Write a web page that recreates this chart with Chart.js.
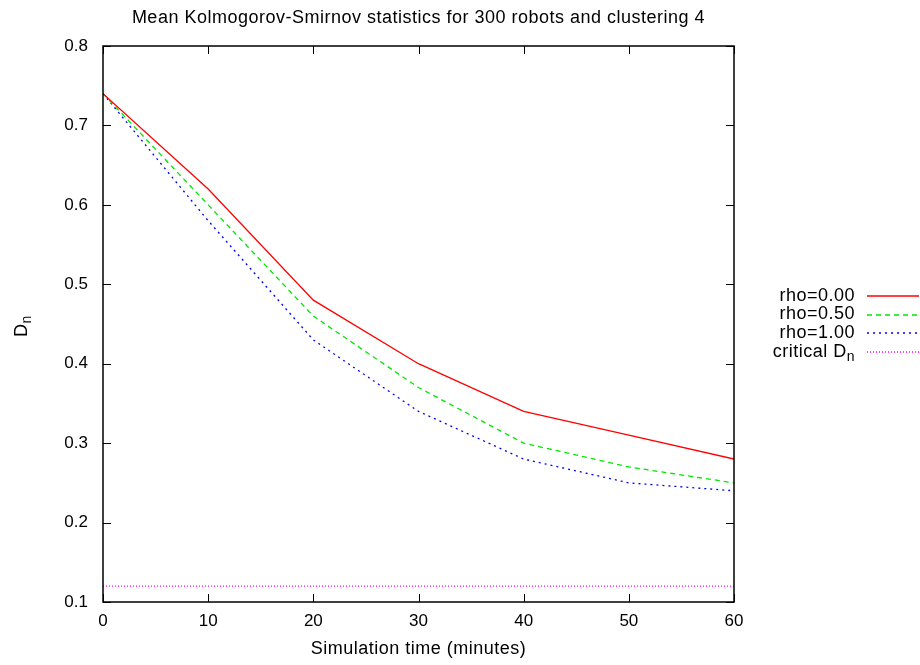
<!DOCTYPE html>
<html>
<head>
<meta charset="utf-8">
<script src="https://cdn.jsdelivr.net/npm/chart.js@4.4.0/dist/chart.umd.min.js"></script>
<style>
  html, body { margin: 0; padding: 0; background: #fff; }
  #wrap { width: 920px; height: 665px; }
</style>
</head>
<body>
<div id="wrap"><canvas id="c" width="920" height="665"></canvas></div>
<script>
// Simulation time in minutes and mean KS statistic per rho value
const minutes = [0, 10, 20, 30, 40, 50, 60];
const rho000 = [0.74, 0.62, 0.48, 0.40, 0.34, 0.31, 0.28];
const rho050 = [0.74, 0.60, 0.46, 0.37, 0.30, 0.27, 0.25];
const rho100 = [0.74, 0.58, 0.43, 0.34, 0.28, 0.25, 0.24];
const criticalDn = [0.12, 0.12, 0.12, 0.12, 0.12, 0.12, 0.12];

const seriesNames = ['rho=0.00', 'rho=0.50', 'rho=1.00', 'critical D_n'];
const xTicks = [0, 10, 20, 30, 40, 50, 60];
const yTicks = [0.1, 0.2, 0.3, 0.4, 0.5, 0.6, 0.7, 0.8];

const chartTitle = 'Mean Kolmogorov-Smirnov statistics for 300 robots and clustering 4';
const xTitle = 'Simulation time (minutes)';

const FONT = '"Liberation Sans", Arial, Helvetica, sans-serif';
const FS = 18;       // text size for titles and legend
const TICK_FS = 17;  // tick label size
const SPACING = '0.5px';

const toPoints = vals => minutes.map((m, i) => ({ x: m, y: vals[i] }));

// Draw text with an "_n" style subscript
function drawSubText(ctx, text, x, y, align) {
  const parts = text.split('_');
  const main = parts[0];
  const sub = parts[1] || '';
  const subFont = Math.round(FS * 0.8) + 'px ' + FONT;
  ctx.letterSpacing = SPACING;
  ctx.font = FS + 'px ' + FONT;
  const wMain = ctx.measureText(main).width;
  ctx.font = subFont;
  const wSub = sub ? ctx.measureText(sub).width : 0;
  const total = wMain + wSub;
  let start = x;
  if (align === 'right') start = x - total;
  else if (align === 'center') start = x - total / 2;
  ctx.textAlign = 'left';
  ctx.textBaseline = 'middle';
  ctx.font = FS + 'px ' + FONT;
  ctx.fillText(main, start, y);
  if (sub) {
    ctx.font = subFont;
    ctx.fillText(sub, start + wMain, y + 5);
  }
}

const decorations = {
  id: 'decorations',
  afterDraw(chart) {
    const { ctx, chartArea: a, scales: { x, y } } = chart;
    ctx.save();
    ctx.fillStyle = '#000';
    ctx.strokeStyle = '#000';

    // inward tick marks on all four sides
    ctx.lineWidth = 1;
    ctx.beginPath();
    const TL = 8;
    xTicks.forEach(v => {
      const px = Math.round(x.getPixelForValue(v)) + 0.5;
      ctx.moveTo(px, a.bottom); ctx.lineTo(px, a.bottom - TL);
      ctx.moveTo(px, a.top); ctx.lineTo(px, a.top + TL);
    });
    yTicks.forEach(v => {
      const py = Math.round(y.getPixelForValue(v)) + 0.5;
      ctx.moveTo(a.left, py); ctx.lineTo(a.left + TL, py);
      ctx.moveTo(a.right, py); ctx.lineTo(a.right - TL, py);
    });
    ctx.stroke();

    // plot border
    ctx.lineWidth = 1.5;
    ctx.strokeRect(a.left, a.top, a.right - a.left, a.bottom - a.top);

    // title and x-axis title
    const cx = (a.left + a.right) / 2;
    ctx.letterSpacing = SPACING;
    ctx.font = FS + 'px ' + FONT;
    ctx.textAlign = 'center';
    ctx.textBaseline = 'middle';
    ctx.fillText(chartTitle, cx, 18);
    ctx.fillText(xTitle, cx, 649);

    // y-axis title D_n, rotated
    ctx.save();
    ctx.translate(22, (a.top + a.bottom) / 2 + 2);
    ctx.rotate(-Math.PI / 2);
    drawSubText(ctx, 'D_n', 0, 0, 'center');
    ctx.restore();

    // legend: label right-aligned, line sample after it
    const rowY = [296, 314.5, 333, 352];
    chart.data.datasets.forEach((ds, i) => {
      ctx.fillStyle = '#000';
      drawSubText(ctx, ds.label, 855, rowY[i], 'right');
      ctx.strokeStyle = ds.borderColor;
      ctx.lineWidth = 1.5;
      ctx.setLineDash(ds.borderDash || []);
      ctx.beginPath();
      ctx.moveTo(867, Math.round(rowY[i]));
      ctx.lineTo(919, Math.round(rowY[i]));
      ctx.stroke();
      ctx.setLineDash([]);
    });
    ctx.restore();
  }
};

const lineStyle = { borderWidth: 1.3, pointRadius: 0, tension: 0, fill: false };

new Chart(document.getElementById('c'), {
  type: 'line',
  data: {
    datasets: [
      { label: seriesNames[0], data: toPoints(rho000), borderColor: '#ff0000', ...lineStyle },
      { label: seriesNames[1], data: toPoints(rho050), borderColor: '#00e600', borderDash: [5, 4], ...lineStyle },
      { label: seriesNames[2], data: toPoints(rho100), borderColor: '#0000ff', borderDash: [2, 4], ...lineStyle },
      { label: seriesNames[3], data: toPoints(criticalDn), borderColor: '#ff00ff', borderDash: [1, 2], ...lineStyle }
    ]
  },
  options: {
    responsive: false,
    animation: false,
    devicePixelRatio: 1,
    layout: { padding: { left: 0, right: 186, top: 46, bottom: 0 } },
    plugins: { legend: { display: false }, title: { display: false }, tooltip: { enabled: false } },
    scales: {
      x: {
        type: 'linear',
        min: 0, max: 60,
        afterBuildTicks: s => { s.ticks = xTicks.map(v => ({ value: v })); },
        afterFit: s => { s.height = 63; },
        grid: { display: false, drawTicks: false },
        border: { display: false },
        ticks: { color: '#000', font: { family: FONT, size: TICK_FS }, padding: 9, maxRotation: 0 }
      },
      y: {
        type: 'linear',
        min: 0.1, max: 0.8,
        afterBuildTicks: s => { s.ticks = yTicks.map(v => ({ value: v })); },
        afterFit: s => { s.width = 103; },
        grid: { display: false, drawTicks: false },
        border: { display: false },
        ticks: { color: '#000', font: { family: FONT, size: TICK_FS }, padding: 15, callback: v => v.toFixed(1) }
      }
    }
  },
  plugins: [decorations]
});
</script>
</body>
</html>
